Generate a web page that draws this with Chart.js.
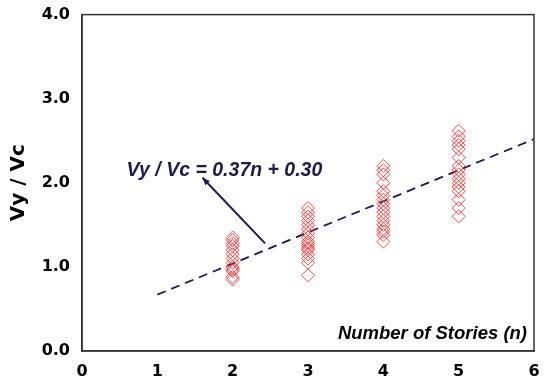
<!DOCTYPE html>
<html>
<head>
<meta charset="utf-8">
<script src="https://cdn.jsdelivr.net/npm/chart.js@4"></script>
<style>
  html, body { margin: 0; padding: 0; background: #fff; }
  #wrap { width: 547px; height: 383px; }
</style>
</head>
<body>
<div id="wrap"><canvas id="c" width="547" height="383"></canvas></div>
<script>
// measured Vy/Vc ratios, grouped by number of stories
const stories2 = [0.85, 0.88, 0.95, 0.97, 1.0, 1.05, 1.1, 1.15, 1.2, 1.25, 1.28, 1.32, 1.35];
const stories3 = [0.9, 1.05, 1.1, 1.15, 1.2, 1.22, 1.25, 1.28, 1.3, 1.35, 1.4, 1.45, 1.5, 1.55, 1.6, 1.65, 1.7];
const stories4 = [1.3, 1.38, 1.42, 1.45, 1.5, 1.55, 1.6, 1.65, 1.7, 1.75, 1.8, 1.85, 1.9, 2.0, 2.1, 2.15, 2.2];
const stories5 = [1.6, 1.7, 1.8, 1.9, 1.95, 2.0, 2.05, 2.1, 2.15, 2.2, 2.3, 2.4, 2.45, 2.5, 2.55, 2.62];

// regression line Vy/Vc = slope*n + intercept
const slope = 0.37;
const intercept = 0.30;
const fitRange = [1, 6];

const xTicks = [0, 1, 2, 3, 4, 5, 6];
const yTicks = [0, 1, 2, 3, 4];

// equation label and the arrow pointing to the fit line (data units)
const eqText = "Vy / Vc = 0.37n + 0.30";
const eqAt = [1.89, 2.076];
const arrowFrom = [2.43, 1.28];
const arrowTo = [1.6, 2.06];

const points = [];
[[2, stories2], [3, stories3], [4, stories4], [5, stories5]].forEach(([n, vals]) => {
    vals.forEach(v => points.push({ x: n, y: v }));
});

const fitLine = fitRange.map(n => ({ x: n, y: slope * n + intercept }));

const navy = "#1b1b50";
const arial = "'Liberation Sans', Arial, sans-serif";
const heavy = "'DejaVu Sans', sans-serif";

const frame = {
    id: "frame",
    afterDraw(chart) {
        const { ctx, chartArea: a, scales } = chart;
        ctx.save();
        ctx.strokeStyle = "#333";
        ctx.lineWidth = 1.5;
        ctx.strokeRect(a.left, a.top, a.right - a.left, a.bottom - a.top);

        // equation text
        ctx.fillStyle = navy;
        ctx.font = "italic bold 19.5px " + arial;
        ctx.textAlign = "center";
        ctx.textBaseline = "alphabetic";
        ctx.fillText(eqText, scales.x.getPixelForValue(eqAt[0]), scales.y.getPixelForValue(eqAt[1]));

        // arrow
        const x1 = scales.x.getPixelForValue(arrowFrom[0]), y1 = scales.y.getPixelForValue(arrowFrom[1]);
        const x2 = scales.x.getPixelForValue(arrowTo[0]), y2 = scales.y.getPixelForValue(arrowTo[1]);
        ctx.strokeStyle = navy;
        ctx.lineWidth = 2;
        ctx.beginPath();
        ctx.moveTo(x1, y1);
        ctx.lineTo(x2, y2);
        ctx.stroke();
        const ang = Math.atan2(y2 - y1, x2 - x1);
        ctx.beginPath();
        ctx.moveTo(x2, y2);
        ctx.lineTo(x2 - 8 * Math.cos(ang - 0.4), y2 - 8 * Math.sin(ang - 0.4));
        ctx.lineTo(x2 - 8 * Math.cos(ang + 0.4), y2 - 8 * Math.sin(ang + 0.4));
        ctx.closePath();
        ctx.fillStyle = navy;
        ctx.fill();

        // x axis title sits inside the plot, bottom right
        ctx.fillStyle = "#000";
        ctx.font = "italic bold 18.5px " + arial;
        ctx.textAlign = "right";
        ctx.fillText("Number of Stories (n)", a.right - 7, a.bottom - 12);
        ctx.restore();
    }
};

new Chart(document.getElementById("c"), {
    type: "scatter",
    data: {
        datasets: [
            {
                data: points,
                pointStyle: "rectRot",
                pointRadius: 6.5,
                pointBorderWidth: 1,
                borderColor: "rgba(255,30,30,0.8)",
                backgroundColor: "rgba(0,0,0,0)",
                showLine: false
            },
            {
                data: fitLine,
                showLine: true,
                borderColor: navy,
                borderWidth: 1.8,
                borderDash: [9, 6],
                pointRadius: 0,
                fill: false
            }
        ]
    },
    options: {
        responsive: false,
        animation: false,
        layout: { padding: { top: 14, right: 13, left: 0, bottom: 0 } },
        plugins: { legend: { display: false }, tooltip: { enabled: false } },
        scales: {
            x: {
                type: "linear",
                min: 0, max: 6,
                afterBuildTicks: s => { s.ticks = xTicks.map(v => ({ value: v })); },
                afterFit: s => { s.height = 32; },
                grid: { display: false, drawTicks: true, tickLength: 6, tickColor: "#333", tickWidth: 1.5 },
                border: { display: true, color: "#333", width: 1.5 },
                ticks: {
                    color: "#000",
                    padding: 5,
                    font: { family: heavy, size: 16, weight: "bold" },
                    callback: v => String(v)
                }
            },
            y: {
                type: "linear",
                min: 0, max: 4,
                afterBuildTicks: s => { s.ticks = yTicks.map(v => ({ value: v })); },
                afterFit: s => { s.width = 82; },
                grid: { display: false, drawTicks: true, tickLength: 7, tickColor: "#333", tickWidth: 1.5 },
                border: { display: true, color: "#333", width: 1.5 },
                title: {
                    display: true,
                    text: "Vy / Vc",
                    color: "#000",
                    padding: { top: 7, bottom: 8 },
                    font: { family: heavy, size: 20, weight: "bold" }
                },
                ticks: {
                    color: "#000",
                    padding: 5,
                    font: { family: heavy, size: 16, weight: "bold" },
                    callback: v => v.toFixed(1)
                }
            }
        }
    },
    plugins: [frame]
});
</script>
</body>
</html>
